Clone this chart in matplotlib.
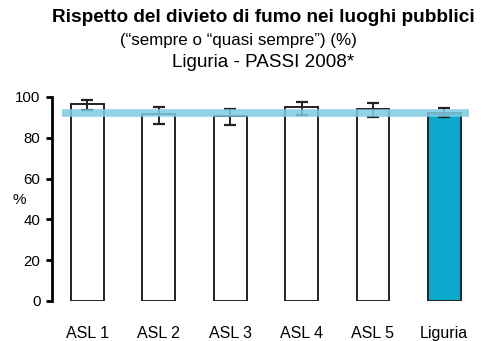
import matplotlib
matplotlib.use("Agg")
import matplotlib.pyplot as plt
import numpy as np

plt.rcParams['font.family'] = ['Liberation Sans', 'DejaVu Sans']

categories = ["ASL 1", "ASL 2", "ASL 3", "ASL 4", "ASL 5", "Liguria"]
values = [96.5, 91.5, 90.5, 95.0, 94.0, 92.0]
ci_low = [93.5, 87.0, 86.5, 91.0, 90.0, 90.0]
ci_high = [98.5, 95.0, 94.0, 97.5, 97.0, 94.5]
regional_mean = 92.0
yticks = [0, 20, 40, 60, 80, 100]

W, H = 484, 341
fig = plt.figure(figsize=(W / 100, H / 100), dpi=100)
ax = fig.add_axes([51.7 / W, 40 / H, (480 - 51.7) / W, (301 - 97) / H])

x = np.arange(len(categories))
colors = ["white"] * (len(categories) - 1) + ["#0aa8cb"]
ax.bar(x, values, width=0.46, color=colors, edgecolor="#222222", linewidth=1.4, zorder=2)

err = [np.array(values) - np.array(ci_low), np.array(ci_high) - np.array(values)]
ax.errorbar(x, values, yerr=err, fmt="none", ecolor="#222222", elinewidth=1.4,
            capsize=4.3, capthick=1.6, zorder=3, clip_on=False)

ax.plot([-0.36, 5.34], [regional_mean, regional_mean], color="#7fcbe0", lw=5.5,
        alpha=0.85, solid_capstyle="butt", zorder=4, clip_on=False)

ax.set_xlim(-0.5, x[-1] + 0.5)
ax.set_ylim(0, 100)
ax.set_yticks(yticks)
ax.set_yticklabels([str(t) for t in yticks], fontsize=10.8)
ax.set_xticks(x)
ax.set_xticklabels(categories, fontsize=11.5)
ax.tick_params(axis="x", length=0, pad=18)
ax.tick_params(axis="y", direction="out", length=4, width=2, pad=4)
for side in ["top", "right", "bottom"]:
    ax.spines[side].set_visible(False)
ax.spines["left"].set_linewidth(2)

ax.text(-0.95, 49.5, "%", fontsize=11, ha="center", va="center", transform=ax.transData)

fig.text(52 / W, 1 - 22.5 / H, "Rispetto del divieto di fumo nei luoghi pubblici",
         fontsize=13.7, fontweight="bold", ha="left", va="baseline")
fig.text(120 / W, 1 - 45 / H, "(\u201csempre o \u201cquasi sempre\u201d) (%)",
         fontsize=12.2, ha="left", va="baseline")
fig.text(172 / W, 1 - 67 / H, "Liguria - PASSI 2008*",
         fontsize=13.6, ha="left", va="baseline")

fig.savefig("out.png", dpi=100)
